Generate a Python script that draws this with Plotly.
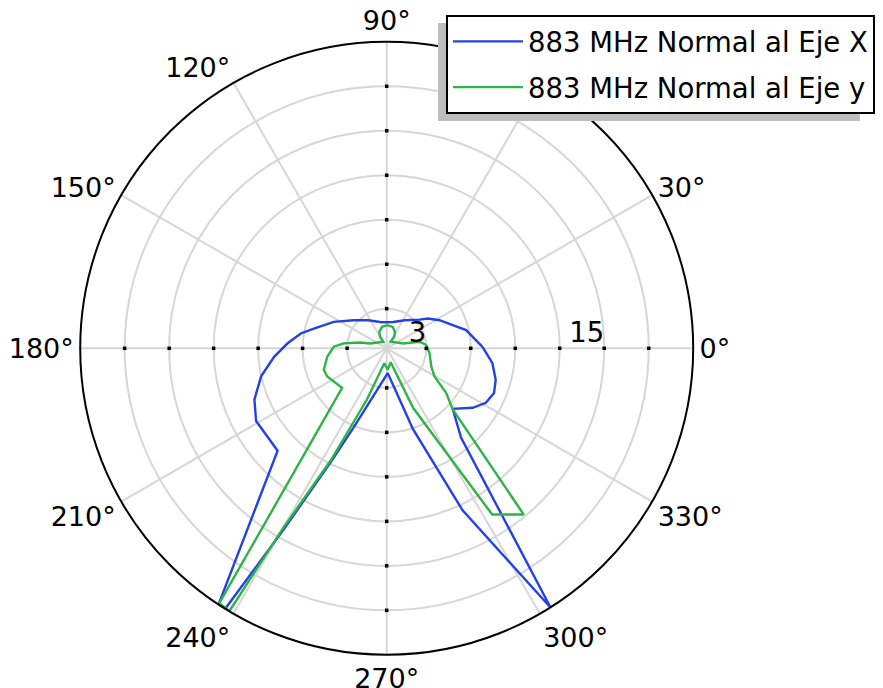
import plotly.graph_objects as go

# ---- data (angle in degrees, radial value) ----
theta_x = [0.9, 12.9, 28.0, 35.8, 41.0, 57.1, 76.1, 90.0, 104.1, 123.5, 139.7, 153.5,
           164.8, 170.2, 177.1, 184.2, 192.6, 201.2, 209.1, 223.2, 236.7, 238.2,
           240.4, 243.8, 247.3, 272.3, 288.0, 295.1, 302.3, 309.8, 317.5, 325.3,
           331.2, 337.4, 343.9, 352.0, 0.9]
r_x = [6.79, 5.82, 4.36, 3.76, 3.28, 2.58, 2.16, 2.09, 2.16, 2.60, 3.26, 4.32,
       5.42, 6.21, 7.02, 7.93, 9.01, 9.90, 10.41, 10.42, 20.98, 21.0,
       14.31, 8.90, 6.13, 2.00, 6.07, 12.40, 21.01, 8.16, 6.37, 7.38,
       7.96, 8.17, 7.98, 7.53, 6.79]

theta_y = [4.7, 11.2, 16.1, 58.8, 56.8, 63.4, 74.5, 88.5, 102.3, 114.0, 120.0, 117.3,
           164.0, 167.7, 173.4, 178.3, 188.0, 198.9, 205.3, 221.6, 236.7, 239.1,
           240.05, 243.5, 248.9, 260.9, 272.6, 285.9, 293.9, 302.4, 309.5, 317.2,
           323.1, 329.5, 337.8, 353.4, 4.7]
r_y = [3.01, 2.60, 1.49, 0.85, 1.26, 1.57, 1.83, 1.89, 1.81, 1.55, 1.23, 0.83,
       1.49, 2.16, 3.25, 3.90, 4.38, 4.81, 4.77, 4.35, 20.90, 20.97,
       14.35, 8.75, 4.03, 1.35, 1.78, 1.31, 4.72, 13.61, 14.86, 6.40,
       5.34, 4.07, 3.58, 3.24, 3.01]

names = ["883 MHz Normal al Eje X", "883 MHz Normal al Eje y"]
colors = ["#2241e6", "#2eb347"]

radial_ticks = [3, 6, 9, 12, 15, 18]
radial_ticktext = ["3\u00a0\u00a0", "", "", "", "15\u00a0\u00a0\u00a0\u00a0", ""]
dot_angles = [0, 90, 180, 270]
angle_ticks = list(range(0, 360, 30))
r_range = [0.33, 21.0]

FONT = "DejaVu Sans"
FS = 27.5
FS_ANG = 27
W, H = 883, 688
cx, cy, R = 386.7, 348.3, 306.5

fig = go.Figure()

fig.add_trace(go.Scatterpolar(
    theta=theta_x, r=r_x, mode="lines", name=names[0],
    line=dict(color=colors[0], width=2.4), legendgroup="a"))
fig.add_trace(go.Scatterpolar(
    theta=theta_y, r=r_y, mode="lines", name=names[1],
    line=dict(color=colors[1], width=2.4), legendgroup="b"))

# black tick dots on the four main axes
dot_t, dot_r = [], []
for a in dot_angles:
    for rv in radial_ticks:
        dot_t.append(a)
        dot_r.append(rv)
fig.add_trace(go.Scatterpolar(
    theta=dot_t, r=dot_r, mode="markers", showlegend=False, hoverinfo="skip",
    marker=dict(symbol="square", size=3.5, color="black", line=dict(width=0))))

grid = "#d6d6d6"
fig.update_layout(
    width=W, height=H,
    margin=dict(l=0, r=0, t=0, b=0),
    paper_bgcolor="white",
    font=dict(family=FONT, size=FS, color="black"),
    polar=dict(
        domain=dict(x=[(cx - R) / W, (cx + R) / W],
                    y=[(H - cy - R) / H, (H - cy + R) / H]),
        bgcolor="white",
        radialaxis=dict(range=r_range, tickvals=radial_ticks, ticktext=radial_ticktext,
                        showline=False, ticks="", angle=0, side="counterclockwise",
                        gridcolor=grid, gridwidth=1.5,
                        tickfont=dict(family=FONT, size=FS, color="black")),
        angularaxis=dict(tickvals=angle_ticks, ticktext=[f"{a}°" for a in angle_ticks],
                         rotation=0, direction="counterclockwise",
                         showline=True, linecolor="black", linewidth=2,
                         gridcolor=grid, gridwidth=1.5,
                         ticks="", ticklen=0,
                         tickfont=dict(family=FONT, size=FS_ANG, color="black")),
    ),
    showlegend=True,
    legend=dict(x=446 / W, y=1 - 15 / H, xanchor="left", yanchor="top",
                bgcolor="white", bordercolor="black", borderwidth=2,
                font=dict(family=FONT, size=FS, color="black"),
                itemwidth=70, tracegroupgap=7),
    shapes=[dict(type="rect", xref="paper", yref="paper", layer="above",
                 x0=438 / W, x1=860 / W, y0=1 - 121 / H, y1=1 - 23 / H,
                 fillcolor="#bdbdbd", line=dict(width=0))],
)

fig.write_html("out.html")
